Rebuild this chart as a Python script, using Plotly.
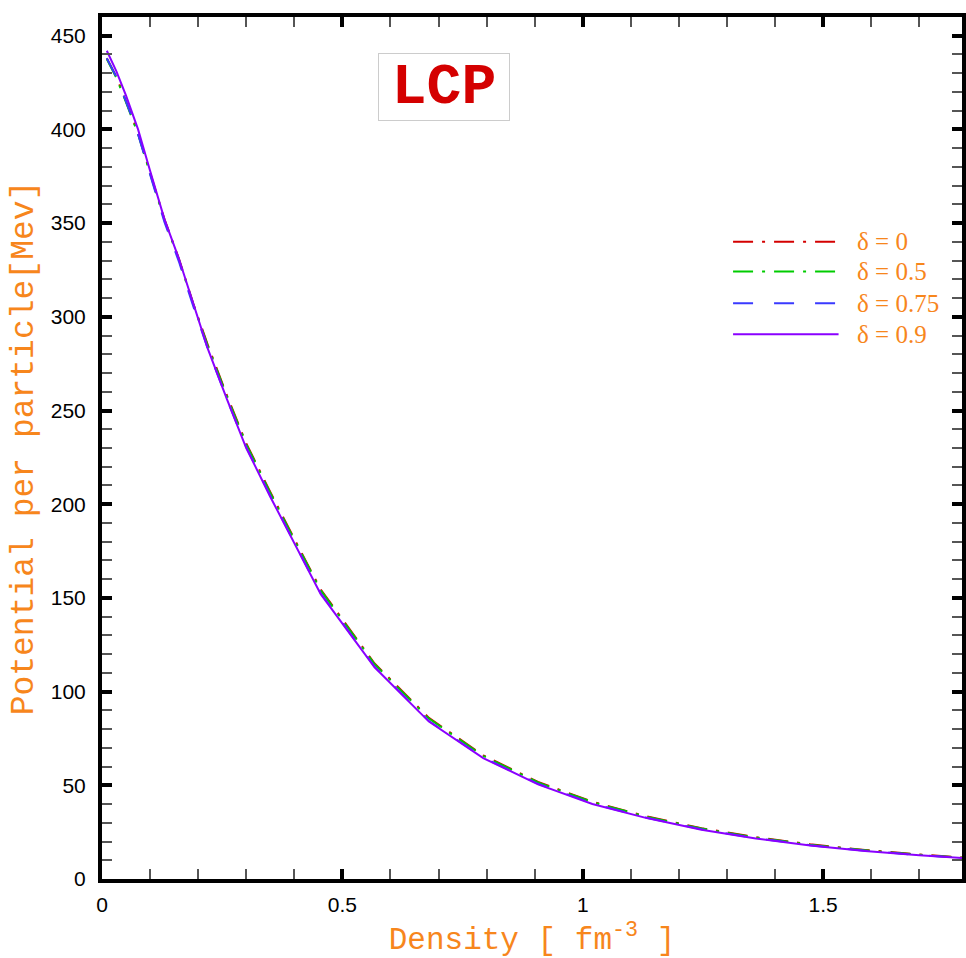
import plotly.graph_objects as go

# Density grid [fm^-3]
density = [0.01, 0.03, 0.05, 0.075, 0.10, 0.13, 0.16, 0.19, 0.22, 0.26, 0.30, 0.35,
           0.40, 0.455, 0.567, 0.68, 0.793, 0.907, 1.02, 1.133, 1.247, 1.36, 1.473,
           1.587, 1.70, 1.813]

# Potential per particle [MeV] for each asymmetry delta
pot_d0 = [438, 428, 415, 398, 377, 352, 331, 307, 285, 258, 232.5, 206.5, 181.5, 154.5,
          115, 86, 66, 51.8, 41.2, 33.4, 27.1, 22.3, 18.5, 15.5, 13.1, 11.1]
pot_d05 = [437.5, 427.5, 414.5, 397.5, 376.5, 351.5, 330.5, 306.5, 284.5, 257.5, 232,
           206, 181, 154, 114.6, 85.6, 65.7, 51.5, 41.0, 33.2, 26.9, 22.1, 18.3, 15.3,
           12.9, 11.0]
pot_d075 = [438, 428, 415, 397.5, 376, 350.5, 329.5, 305.5, 283, 256, 230.5, 204.5,
            179.5, 152.5, 113.3, 84.3, 64.8, 50.8, 40.3, 32.7, 26.5, 21.8, 18.0, 15.1,
            12.8, 10.9]
pot_d09 = [442, 431, 418, 400, 378, 352, 331, 307, 283, 256, 230, 204, 179, 152, 113,
           84, 64.5, 50.5, 40, 32.5, 26.3, 21.6, 17.9, 15.0, 12.7, 10.8]

labels = ["δ = 0", "δ = 0.5", "δ = 0.75", "δ = 0.9"]
series = [pot_d0, pot_d05, pot_d075, pot_d09]
colors = ["#d40000", "#00cc00", "#3a3aff", "#8a00ff"]
dashes = ["20px,9px,3px,9px", "20px,9px,3px,9px", "20px,21px", "solid"]

x_ticks = [0, 0.5, 1, 1.5]
x_ticktext = ["0", "0.5", "1", "1.5"]
y_ticks = [0, 50, 100, 150, 200, 250, 300, 350, 400, 450]

ORANGE = "#f7861c"
W, H = 966, 958
ML, MT, MB, MR = 102, 17, 74, 0
PW, PH = W - ML - MR, H - MT - MB


def px(xp):
    return (xp - ML) / PW


def py(yp):
    return (H - MB - yp) / PH


fig = go.Figure()
for name, vals, col, dash in zip(labels, series, colors, dashes):
    fig.add_trace(go.Scatter(x=density, y=vals, mode="lines", name=name,
                             line=dict(color=col, width=2, dash=dash),
                             showlegend=False))

axis_common = dict(
    showline=True, linewidth=4, linecolor="black", mirror="allticks",
    ticks="inside", ticklen=10, tickwidth=4, tickcolor="black",
    showgrid=False, zeroline=False,
    tickfont=dict(family="Liberation Sans, Arial", size=21, color="black"),
)

fig.update_xaxes(
    range=[0, (W - ML - MR) / 483.0], tickvals=x_ticks, ticktext=x_ticktext,
    minor=dict(ticks="inside", dtick=0.1, tick0=0, ticklen=10, tickwidth=1.5,
               tickcolor="#555555", showgrid=False),
    title=dict(text="Density [ fm<sup>-3</sup> ]",
               font=dict(family="Liberation Mono, Courier New", size=31, color=ORANGE),
               standoff=20),
    ticklabelstandoff=4,
    **axis_common,
)
fig.update_yaxes(
    range=[0, 460], tickvals=y_ticks,
    minor=dict(ticks="inside", dtick=10, tick0=0, ticklen=10, tickwidth=1.5,
               tickcolor="#555555", showgrid=False),
    title=dict(text="Potential per particle[Mev]",
               font=dict(family="Liberation Mono, Courier New", size=33, color=ORANGE),
               standoff=8),
    ticklabelstandoff=8,
    **axis_common,
)

# Hand-drawn key: sample line plus label for each delta
shapes = []
annotations = []
rows = [243, 273, 305, 336]
for yrow, name, col, dash in zip(rows, labels, colors, dashes):
    shapes.append(dict(type="line", xref="paper", yref="paper",
                       x0=px(736), x1=px(842), y0=py(yrow), y1=py(yrow),
                       line=dict(color=col, width=2, dash=dash)))
    annotations.append(dict(xref="paper", yref="paper", x=px(859), y=py(yrow),
                            xanchor="left", yanchor="middle", showarrow=False,
                            text=name,
                            font=dict(family="Liberation Serif, Times New Roman",
                                      size=25, color=ORANGE)))

# Boxed model label
annotations.append(dict(xref="paper", yref="paper", x=px(446), y=py(87),
                        xanchor="center", yanchor="middle", showarrow=False,
                        text="<b>LCP</b>", width=126, height=62,
                        bordercolor="#cccccc", borderwidth=1, borderpad=2,
                        bgcolor="white",
                        font=dict(family="Liberation Mono, Courier New", size=58,
                                  color="#d40000")))

fig.update_layout(
    width=W, height=H,
    margin=dict(l=ML, r=MR, t=MT, b=MB, pad=0),
    paper_bgcolor="white", plot_bgcolor="white",
    shapes=shapes, annotations=annotations,
    showlegend=False,
)

fig.write_html("out.html")
